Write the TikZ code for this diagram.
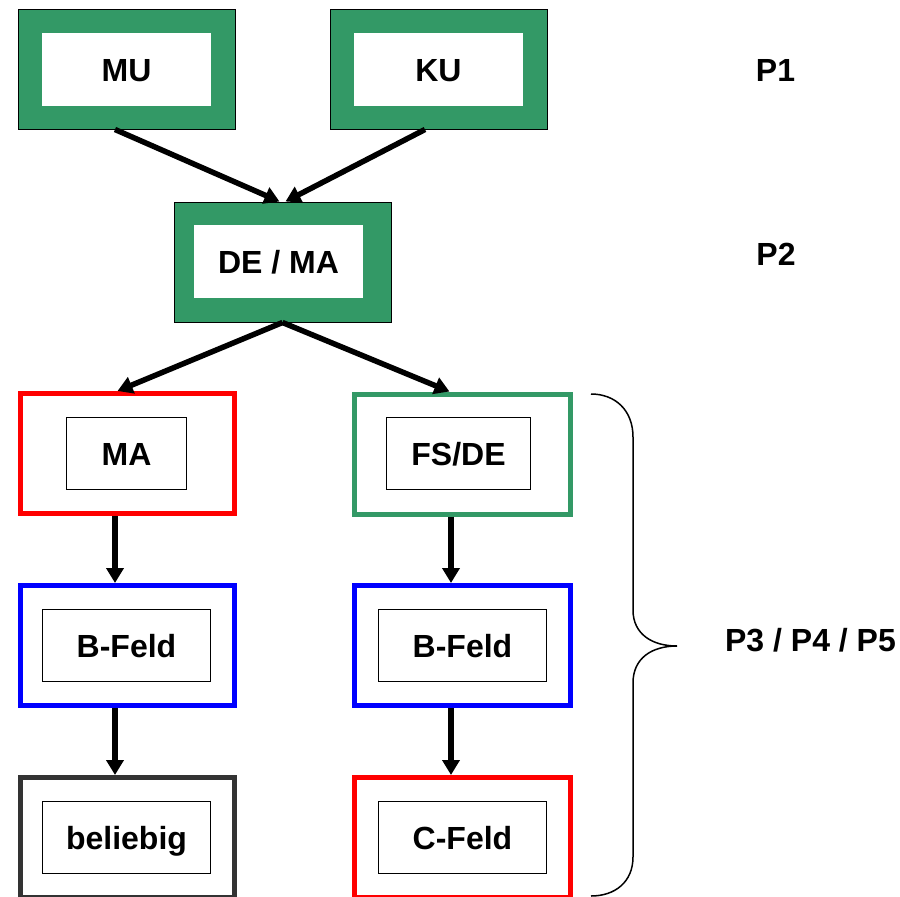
\documentclass[tikz,border=0pt]{standalone}
\usepackage{fontspec}
\setmainfont{Liberation Sans}
\usepackage{tikz}
\usetikzlibrary{arrows.meta}
\definecolor{boxgreen}{RGB}{51,153,102}
\definecolor{boxgray}{RGB}{51,51,51}

\begin{document}
\begin{tikzpicture}[x=1pt,y=-1pt,
    lbl/.style={font=\bfseries\fontsize{32}{38}\selectfont, text height=23pt, text depth=0pt, inner sep=0pt},
    greenbox/.style={draw=black, fill=boxgreen, line width=1pt, minimum width=217pt, minimum height=120pt, inner sep=0pt},
    rim/.style={draw=#1, line width=5pt, minimum width=214pt, minimum height=120pt, inner sep=0pt},
    hole/.style={lbl, fill=white, minimum width=169pt, minimum height=73pt},
    inbox/.style={lbl, draw=black, line width=1.2pt, minimum width=#1, minimum height=72pt},
    arr/.style={line width=5.5pt, -{Triangle[length=15pt,width=17pt]}}]
    \useasboundingbox (0,0) rectangle (900,897);
    \node (Mu) at (126.5,69)  [greenbox] {};
    \node (MuIn) at (126.5,69.5)  [hole] {MU};
    \node (Ku) at (438.5,69)  [greenbox] {};
    \node (KuIn) at (438.5,69.5)  [hole] {KU};
    \node (DeMa) at (282.5,262)  [greenbox] {};
    \node (DeMaIn) at (278.5,261.5)  [hole] {DE / MA};
    \node (Ma) at (127.5,453.5)  [rim=red] {};
    \node (MaIn) at (126.5,453.5)  [inbox=120pt] {MA};
    \node (FsDe) at (462.5,454)  [rim=boxgreen, minimum width=216pt] {};
    \node (FsDeIn) at (458.5,453.5)  [inbox=144pt] {FS/DE};
    \node (Bl) at (127.5,645.5)  [rim=blue] {};
    \node (BlIn) at (126.5,645.5)  [inbox=168pt] {B-Feld};
    \node (Br) at (462.5,645.5)  [rim=blue, minimum width=216pt] {};
    \node (BrIn) at (462.5,645.5)  [inbox=168pt] {B-Feld};
    \node (Bel) at (127.5,837.5)  [rim=boxgray] {};
    \node (BelIn) at (126.5,837.5)  [inbox=168pt] {beliebig};
    \node (Cf) at (462.5,837.5)  [rim=red, minimum width=216pt] {};
    \node (CfIn) at (462.5,837.5)  [inbox=168pt] {C-Feld};
    \node (P1) at (775.5,70)  [lbl] {P1};
    \node (P2) at (776,254)  [lbl] {P2};
    \node (P345) at (810.5,639.5)  [lbl] {P3 / P4 / P5};
    \draw[arr] ([xshift=-11.5pt]Mu.south) -- ([xshift=-3pt]DeMa.north);
    \draw[arr] ([xshift=-13.5pt]Ku.south) -- ([xshift=3pt]DeMa.north);
    \draw[arr] (DeMa.south) -- ([xshift=-10pt]Ma.north);
    \draw[arr] (DeMa.south) -- ([xshift=-13pt]FsDe.north);
    \draw[arr] ([xshift=-12.5pt]Ma.south) -- ([xshift=-12.5pt]Bl.north);
    \draw[arr] ([xshift=-11.5pt]FsDe.south) -- ([xshift=-11.5pt]Br.north);
    \draw[arr] ([xshift=-12.5pt]Bl.south) -- ([xshift=-12.5pt]Bel.north);
    \draw[arr] ([xshift=-11.5pt]Br.south) -- ([xshift=-11.5pt]Cf.north);
    \draw[line width=1.5pt]
    (591,394) .. controls (615,394) and (633,410) .. (633,437) -- (633,610)
    .. controls (633,634) and (652,646) .. (677,646)
    .. controls (652,646) and (633,658) .. (633,683) -- (633,857)
    .. controls (633,882) and (615,896) .. (591,896);
  \end{tikzpicture}
\end{document}
